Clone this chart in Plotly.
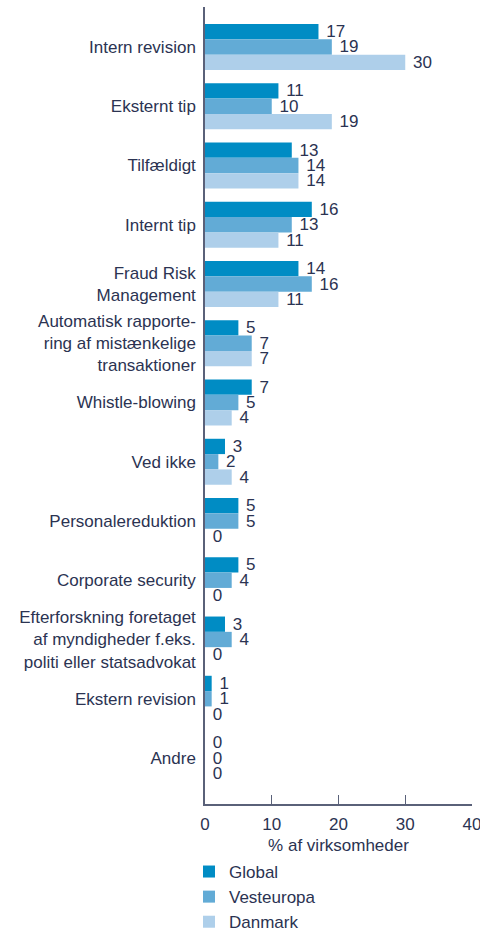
import plotly.graph_objects as go

categories = [
    "Intern revision",
    "Eksternt tip",
    "Tilfældigt",
    "Internt tip",
    "Fraud Risk<br>Management",
    "Automatisk rapporte-<br>ring af mistænkelige<br>transaktioner",
    "Whistle-blowing",
    "Ved ikke",
    "Personalereduktion",
    "Corporate security",
    "Efterforskning foretaget<br>af myndigheder f.eks.<br>politi eller statsadvokat",
    "Ekstern revision",
    "Andre",
]
global_vals = [17, 11, 13, 16, 14, 5, 7, 3, 5, 5, 3, 1, 0]
vesteuropa_vals = [19, 10, 14, 13, 16, 7, 5, 2, 5, 4, 4, 1, 0]
danmark_vals = [30, 19, 14, 11, 11, 7, 4, 4, 0, 0, 0, 0, 0]
series_names = ["Global", "Vesteuropa", "Danmark"]
x_ticks = [0, 10, 20, 30, 40]

colors = ["#008CC4", "#62ABD6", "#AECFEA"]
text_color = "#2B3352"
axis_color = "#5A6179"
font_family = "Liberation Sans, Arial, sans-serif"
fs = 17

fig = go.Figure()
for name, vals, col in zip(series_names, [global_vals, vesteuropa_vals, danmark_vals], colors):
    fig.add_trace(go.Bar(
        y=categories, x=vals, name=name, orientation="h",
        marker=dict(color=col, line=dict(width=0)),
        text=["\u00a0" + str(v) for v in vals], textposition="outside",
        textfont=dict(color=text_color, size=fs, family=font_family),
        constraintext="none", cliponaxis=False, hoverinfo="x+name",
    ))

fig.update_layout(
    width=480, height=928,
    margin=dict(l=205, r=8, t=7, b=124, autoexpand=False),
    paper_bgcolor="white", plot_bgcolor="white",
    barmode="group", bargap=0.224, bargroupgap=0,
    font=dict(family=font_family, size=fs, color=text_color),
    showlegend=True,
    legend=dict(
        x=-0.06, y=-0.0627, xanchor="left", yanchor="top",
        orientation="v", font=dict(size=fs, color=text_color),
        itemwidth=30, tracegroupgap=0, bgcolor="rgba(0,0,0,0)",
    ),
    xaxis=dict(
        range=[0, 40], tickvals=x_ticks, ticktext=[str(t) for t in x_ticks],
        showgrid=False, zeroline=False,
        showline=True, linecolor=axis_color, linewidth=1.5,
        ticks="inside", ticklen=9, tickcolor=axis_color, tickwidth=1.2,
        ticklabelstandoff=4, ticklabeloverflow="allow",
        tickfont=dict(size=fs, color=text_color),
        title=dict(text="% af virksomheder", font=dict(size=fs, color=text_color), standoff=6),
    ),
    yaxis=dict(
        range=[12.776, -0.675], type="category",
        showgrid=False, zeroline=False,
        showline=True, linecolor=axis_color, linewidth=1.5,
        ticks="", ticklabelstandoff=4,
        tickfont=dict(size=fs, color=text_color),
    ),
)

fig.write_html(
    "out.html",
    config={"displayModeBar": False},
    post_script="document.body.style.margin='0';document.body.style.padding='0';",
)
